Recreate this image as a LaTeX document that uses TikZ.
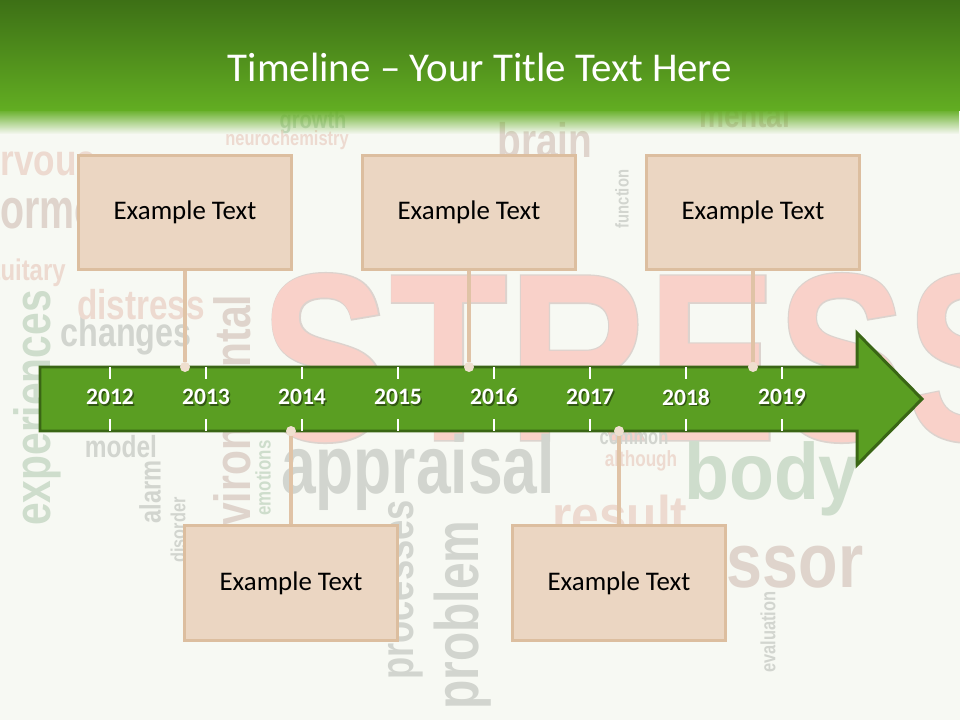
\documentclass[tikz,border=0pt]{standalone}
\usepackage{fontspec}
\setmainfont{Carlito}
\newfontfamily\cloudfont{Liberation Sans}
\newfontfamily\stressline[FakeBold=1.2]{Liberation Sans Bold}
\usetikzlibrary{fadings}

\definecolor{pagebg}{HTML}{F7F9F3}
\definecolor{bartop}{HTML}{3D7016}
\definecolor{barbottom}{HTML}{62AD22}
\definecolor{arrowfill}{HTML}{5A9E22}
\definecolor{arrowedge}{HTML}{3A6615}
\definecolor{boxfill}{HTML}{EBD6C2}
\definecolor{boxedge}{HTML}{DCBE9F}
\definecolor{stemcol}{HTML}{E0C3A6}
\definecolor{dotfill}{HTML}{EFDFCF}
\definecolor{stresspink}{HTML}{F9D1C9}
\definecolor{stressgray}{HTML}{DCD3CE}
\definecolor{cloudgray}{HTML}{D2D5CF}
\definecolor{cloudgreen}{HTML}{CEDDCC}
\definecolor{cloudtan}{HTML}{DFD4CC}
\definecolor{cloudpink}{HTML}{EDDAD0}

% size in pt, horizontal squeeze, word
\newcommand{\cword}[3]{\fontsize{#1}{#1}\selectfont\scalebox{#2}[1]{#3}}

\tikzset{
  cloud/.style={inner sep=0pt, font=\cloudfont\bfseries},
  eventbox/.style={draw=boxedge, fill=boxfill, line width=1.7pt,
    minimum width=4.26cm, minimum height=2.3cm, font=\fontsize{15.3}{18}\selectfont},
  stem/.style={draw=stemcol, line width=2.3pt},
  stemdot/.style={circle, fill=dotfill, inner sep=0pt, minimum size=0.2cm},
  year/.style={text=white, font=\bfseries\fontsize{13.4}{15}\selectfont},
  yearshadow/.style={text=black, opacity=0.45, font=\bfseries\fontsize{13.4}{15}\selectfont},
  tick/.style={draw=white, line width=0.7pt},
}

\begin{document}
\begin{tikzpicture}[x=0.02cm, y=-0.02cm]
	\fill[pagebg] (0,0) rectangle (960,720);
	\useasboundingbox (0,0) rectangle (960,720);

	% word cloud behind everything
	\node[cloud, text=stressgray, font=\stressline] (stressout) at (648,358) {\cword{136}{0.81}{STRESS}};
	\node[cloud, text=stresspink] (stress) at (648,358) {\cword{136}{0.81}{STRESS}};
	\node[cloud, text=cloudgray] (w1) at (418,472) {\cword{46.7}{0.76}{appraisal}};
	\node[cloud, text=cloudgreen] (w2) at (772,479) {\cword{45.5}{0.92}{body}};
	\node[cloud, text=cloudtan] (w3) at (795,567) {\cword{43.8}{0.84}{ssor}};
	\node[cloud, text=cloudpink] (w4) at (620,515) {\cword{31}{0.91}{result}};
	\node[cloud, text=cloudgray] (w5) at (634,439) {\cword{12.5}{0.75}{common}};
	\node[cloud, text=cloudpink] (w6) at (641,461) {\cword{12.5}{0.78}{although}};
	\node[cloud, text=cloudgray, rotate=90] (w7) at (463,615) {\cword{35}{0.78}{problem}};
	\node[cloud, text=cloudgray, rotate=90] (w8) at (406,590) {\cword{26.5}{0.78}{processes}};
	\node[cloud, text=cloudtan] (w9) at (545,140) {\cword{27.6}{0.8}{brain}};
	\node[cloud, text=cloudgray] (w10) at (126,336) {\cword{23}{0.8}{changes}};
	\node[cloud, text=cloudpink] (w11) at (141,305) {\cword{23.7}{0.8}{distress}};
	\node[cloud, text=cloudgray] (w12) at (121,447) {\cword{17.4}{0.8}{model}};
	\node[cloud, text=cloudgreen] (w13) at (313,122) {\cword{14.3}{0.8}{growth}};
	\node[cloud, text=cloudpink] (w14) at (287,140) {\cword{11.7}{0.8}{neurochemistry}};
	\node[cloud, text=cloudtan] (w15) at (745,115) {\cword{20}{0.8}{mental}};
	\node[cloud, text=cloudgreen, rotate=90] (w16) at (37,408) {\cword{29}{0.8}{experiences}};
	\node[cloud, text=cloudtan, rotate=90] (w17) at (232,434) {\cword{29}{0.8}{environmental}};
	\node[cloud, text=cloudgray, rotate=90] (w18) at (622,199) {\cword{10.5}{0.8}{function}};
	\node[cloud, text=cloudgreen, rotate=90] (w19) at (263,478) {\cword{12}{0.8}{emotions}};
	\node[cloud, text=cloudgray, rotate=90] (w20) at (150,492) {\cword{16.8}{0.8}{alarm}};
	\node[cloud, text=cloudgray, rotate=90] (w21) at (178,530) {\cword{11.6}{0.8}{disorder}};
	\node[cloud, text=cloudgray, rotate=90] (w22) at (768,632) {\cword{11.7}{0.8}{evaluation}};
	\node[cloud, text=cloudtan, anchor=base west] (w23) at (-24,228) {\cword{32}{0.7}{hormone}};
	\node[cloud, text=cloudpink, anchor=base west] (w24) at (-29,280) {\cword{17}{0.8}{pituitary}};
	\node[cloud, text=cloudpink, anchor=base west] (w25) at (-41,175) {\cword{25}{0.8}{nervous}};

	% title bar
	\shade[top color=bartop, bottom color=barbottom] (0,0) rectangle (960,110);
	\fill[barbottom, path fading=south] (0,109) rectangle (960,134);
	\node[text=white, font=\fontsize{23.3}{28}\selectfont] (title) at (480,67) {Timeline – Your Title Text Here};

	% the time arrow
	\draw[fill=arrowfill, draw=arrowedge, line width=1.7pt, line join=miter]
		(40,367) -- (857,367) -- (857,333) -- (922,399) -- (857,465) -- (857,431) -- (40,431) -- cycle;

	\draw[tick] (110,367) -- (110,379) (110,419) -- (110,431);
	\draw[tick] (206,367) -- (206,379) (206,419) -- (206,431);
	\draw[tick] (302,367) -- (302,379) (302,419) -- (302,431);
	\draw[tick] (398,367) -- (398,379) (398,419) -- (398,431);
	\draw[tick] (494,367) -- (494,379) (494,419) -- (494,431);
	\draw[tick] (590,367) -- (590,379) (590,419) -- (590,431);
	\draw[tick] (686,367) -- (686,379) (686,419) -- (686,431);
	\draw[tick] (782,367) -- (782,379) (782,419) -- (782,431);

	\node[yearshadow] at (111.5,398.5) {2012};
	\node[yearshadow] at (207.5,398.5) {2013};
	\node[yearshadow] at (303.5,398.5) {2014};
	\node[yearshadow] at (399.5,398.5) {2015};
	\node[yearshadow] at (495.5,398.5) {2016};
	\node[yearshadow] at (591.5,398.5) {2017};
	\node[yearshadow] at (687.5,398.5) {2018};
	\node[yearshadow] at (783.5,398.5) {2019};
	\node[year] (y2012) at (110,397) {2012};
	\node[year] (y2013) at (206,397) {2013};
	\node[year] (y2014) at (302,397) {2014};
	\node[year] (y2015) at (398,397) {2015};
	\node[year] (y2016) at (494,397) {2016};
	\node[year] (y2017) at (590,397) {2017};
	\node[year] (y2018) at (686,397) {2018};
	\node[year] (y2019) at (782,397) {2019};

	% events
	\node[stemdot] (d1) at (185,367) {};
	\node[stemdot] (d2) at (469,367) {};
	\node[stemdot] (d3) at (753,367) {};
	\node[stemdot] (d4) at (291,431) {};
	\node[stemdot] (d5) at (619,431) {};

	\node[eventbox] (e1) at (185,212.5) {Example Text};
	\node[eventbox] (e2) at (469,212.5) {Example Text};
	\node[eventbox] (e3) at (753,212.5) {Example Text};
	\node[eventbox] (e4) at (291,583) {Example Text};
	\node[eventbox] (e5) at (619,583) {Example Text};

	\draw[stem] (e1) -- (d1);
	\draw[stem] (e2) -- (d2);
	\draw[stem] (e3) -- (d3);
	\draw[stem] (e4) -- (d4);
	\draw[stem] (e5) -- (d5);
\end{tikzpicture}
\end{document}
